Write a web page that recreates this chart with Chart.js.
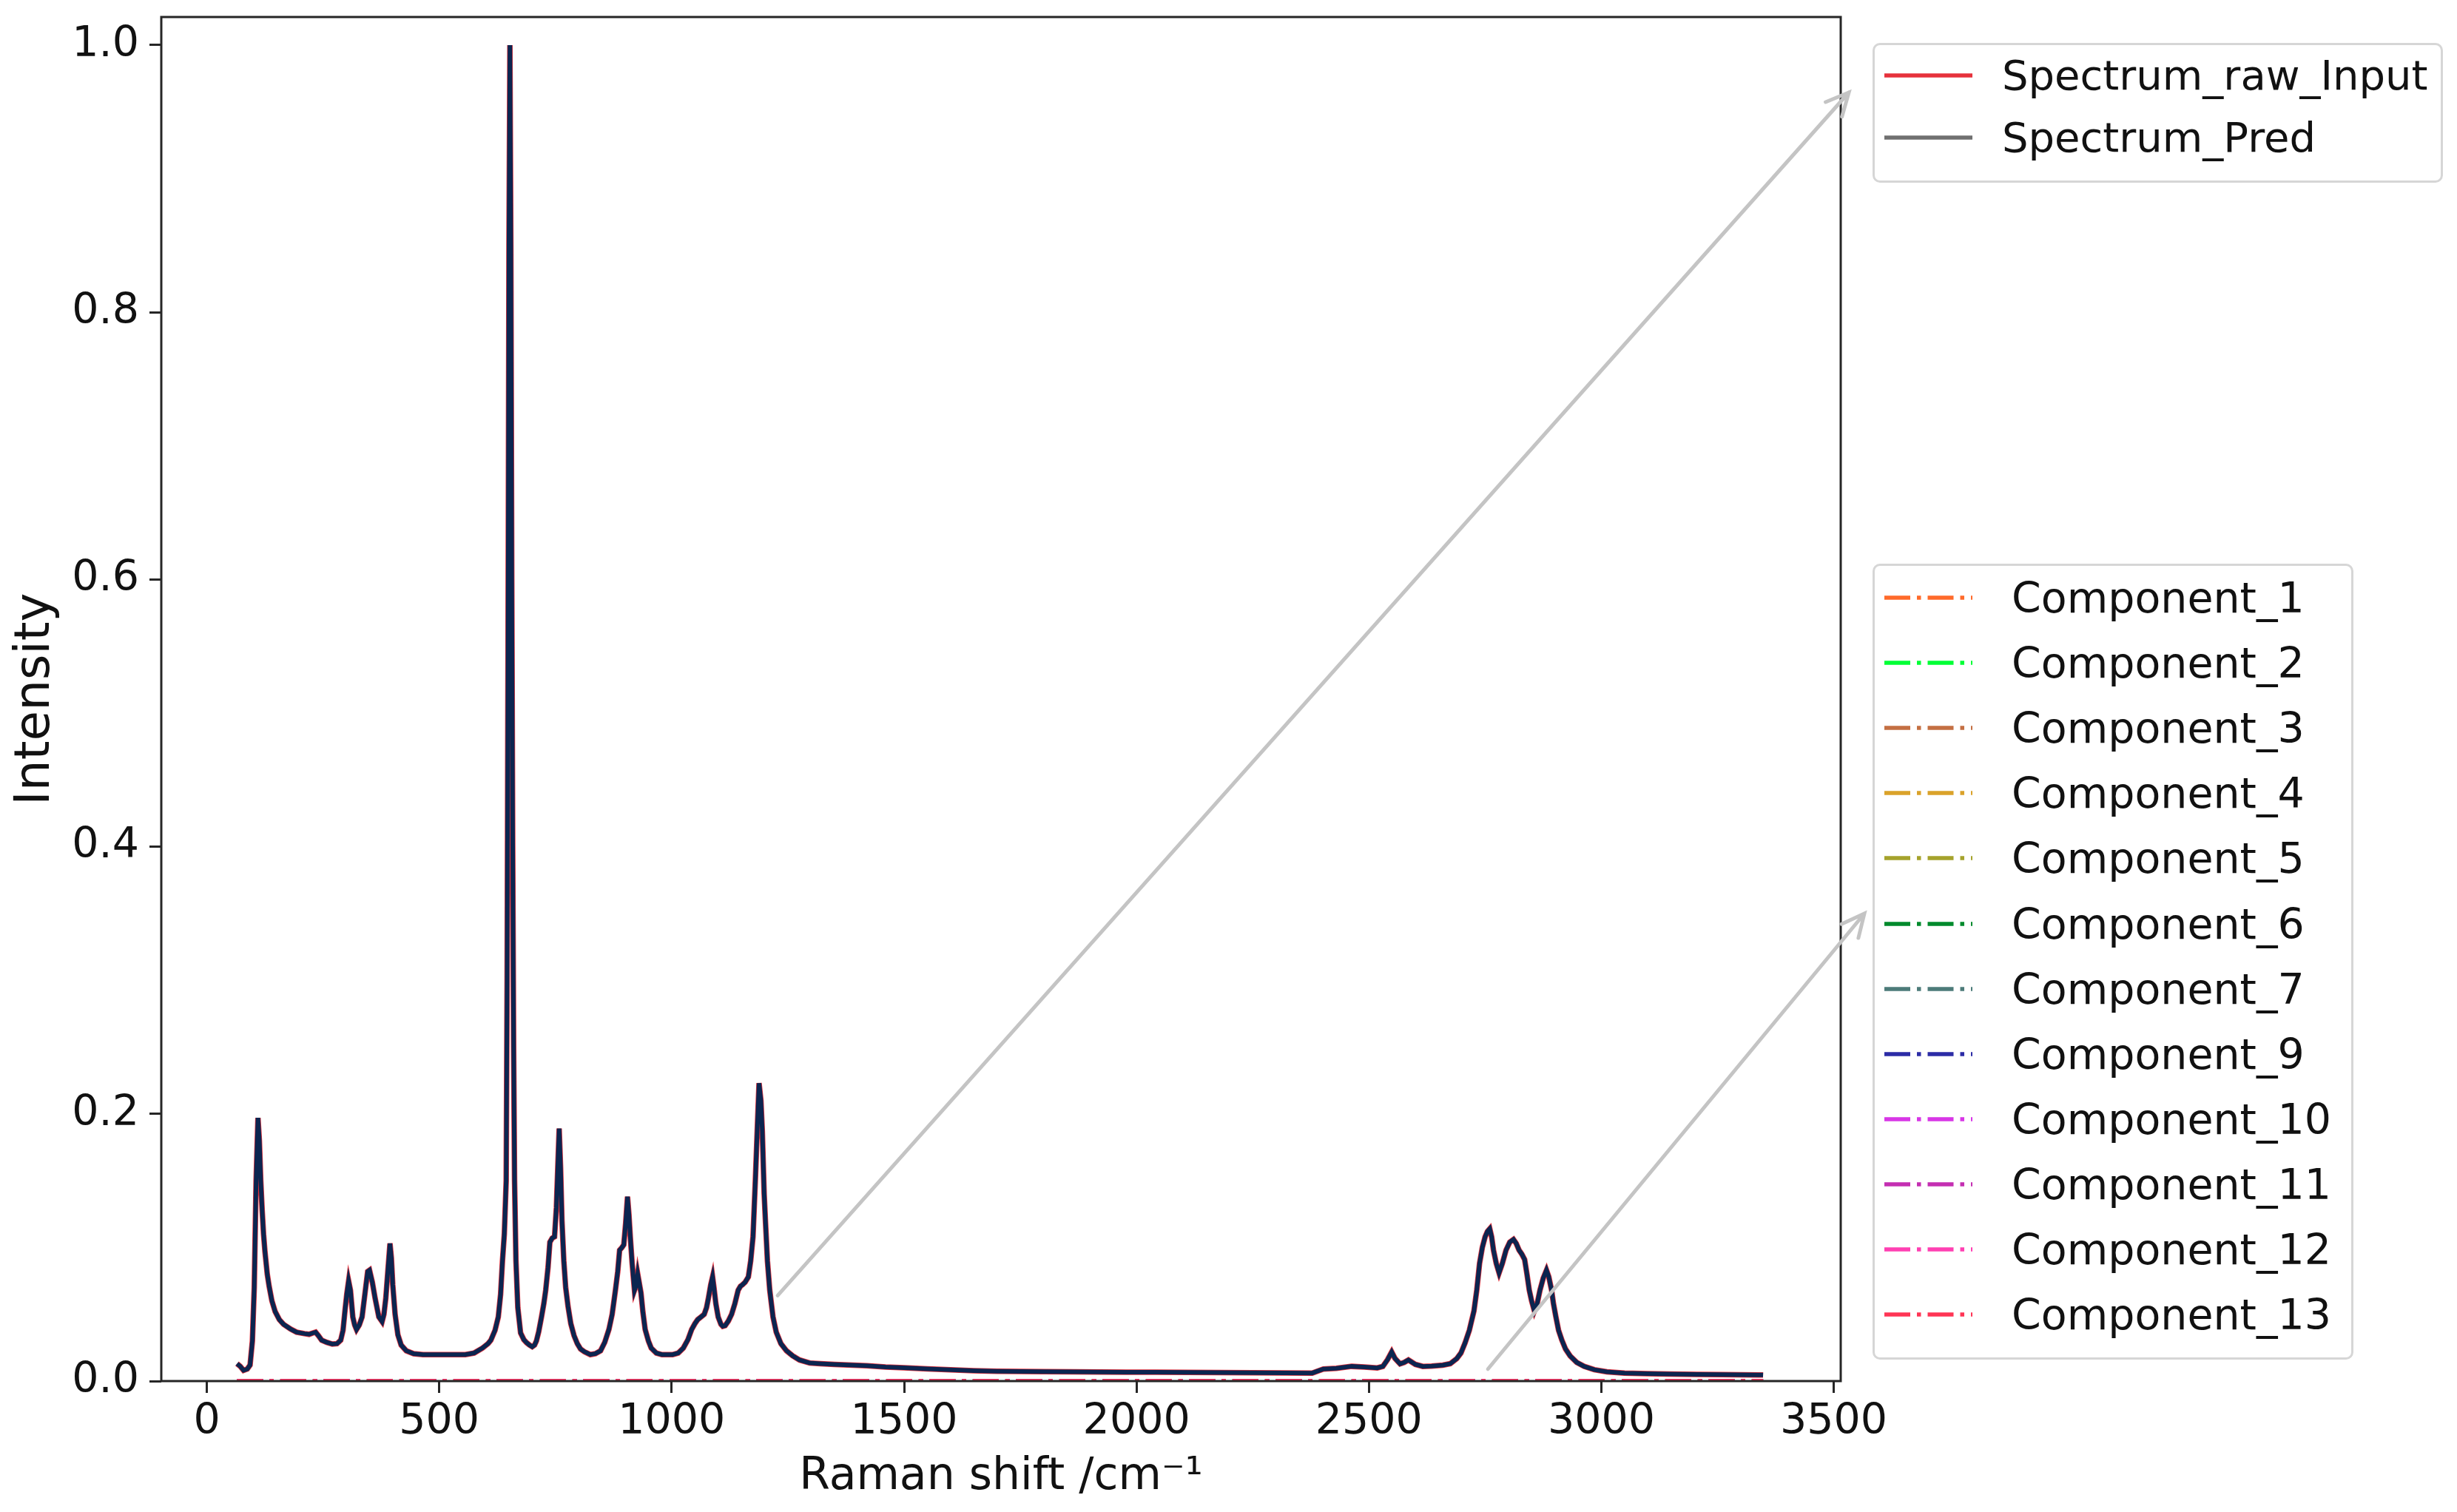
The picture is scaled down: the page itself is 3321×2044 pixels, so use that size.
<!DOCTYPE html>
<html>
<head>
<meta charset="utf-8">
<script src="https://cdn.jsdelivr.net/npm/chart.js@4.4.1/dist/chart.umd.min.js"></script>
<style>
    html, body { margin: 0; padding: 0; background: #fff; }
    #wrap { position: relative; width: 3321px; height: 2044px; overflow: hidden; }
    #chart { position: absolute; left: 0; top: 0; }
    .legend {
        position: absolute; box-sizing: border-box; background: #fff;
        border: 3px solid #d6d6d6; border-radius: 10px;
        font-family: 'DejaVu Sans', sans-serif; color: #111;
    }
    .legend .row { position: absolute; left: 0; height: 80px; display: flex; align-items: center; white-space: nowrap; }
    .legend svg { position: absolute; top: 0; }
    .legend span { position: absolute; line-height: 80px; top: 0; }
</style>
</head>
<body>
<div id="wrap">
    <canvas id="chart" width="3321" height="2044"></canvas>
    <div id="legendSpectra" class="legend"></div>
    <div id="legendComponents" class="legend"></div>
</div>
<script>
// Raman shift (cm-1) and normalised intensity
const shiftX = [
    65, 72, 79, 87, 93, 98, 102, 106, 110, 113, 116, 119, 122, 125, 130, 134, 140, 147, 156, 165,
    180, 193, 210, 220, 228, 234, 240, 247, 258, 270, 280, 288, 293, 297, 301, 305, 309, 314, 318, 322,
    328, 334, 340, 346, 350, 356, 362, 370, 377, 381, 385, 390, 394, 397, 400, 405, 411, 418, 429, 445,
    465, 490, 511, 535, 556, 575, 593, 605, 611, 620, 627, 632, 636, 640, 644, 646, 648, 650, 652, 654,
    656, 658, 660, 662, 665, 669, 675, 682, 688, 694, 700, 705, 709, 714, 720, 725, 729, 734, 738, 743,
    748, 752, 755, 758, 761, 764, 768, 772, 777, 783, 790, 797, 804, 812, 825, 836, 847, 856, 865, 872,
    879, 884, 888, 893, 897, 901, 905, 908, 911, 915, 920, 924, 927, 930, 934, 938, 943, 950, 956, 967,
    979, 990, 1002, 1014, 1025, 1035, 1043, 1050, 1056, 1063, 1070, 1075, 1079, 1084, 1088, 1091, 1095, 1100, 1106, 1110,
    1115, 1122, 1129, 1136, 1143, 1148, 1152, 1158, 1165, 1170, 1175, 1180, 1184, 1188, 1192, 1195, 1199, 1202, 1206, 1211,
    1218, 1225, 1235, 1247, 1260, 1275, 1297, 1320, 1350, 1380, 1420, 1460, 1500, 1550, 1600, 1650, 1700, 1750, 1800, 1866,
    1920, 1980, 2040, 2110, 2180, 2250, 2320, 2378, 2402, 2430, 2463, 2490, 2518, 2530, 2540, 2549, 2556, 2567, 2576, 2585,
    2600, 2616, 2635, 2659, 2675, 2689, 2698, 2707, 2716, 2726, 2732, 2738, 2744, 2750, 2755, 2760, 2764, 2768, 2774, 2780,
    2787, 2795, 2803, 2811, 2817, 2823, 2829, 2835, 2840, 2845, 2850, 2856, 2862, 2868, 2875, 2882, 2887, 2893, 2897, 2902,
    2908, 2915, 2923, 2933, 2947, 2963, 2985, 3012, 3050, 3100, 3146, 3207, 3260, 3300, 3339, 3348
]
const intensity = [
    0.013, 0.011, 0.008, 0.009, 0.012, 0.03, 0.07, 0.15, 0.197, 0.18, 0.15, 0.128, 0.11, 0.097, 0.08, 0.071, 0.06, 0.052, 0.046, 0.0425,
    0.039, 0.0366, 0.0355, 0.035, 0.036, 0.0366, 0.034, 0.0306, 0.029, 0.0277, 0.028, 0.0306, 0.038, 0.052, 0.065, 0.075, 0.068, 0.048, 0.042, 0.0386,
    0.042, 0.048, 0.065, 0.082, 0.083, 0.074, 0.062, 0.048, 0.0445, 0.05, 0.062, 0.085, 0.103, 0.092, 0.072, 0.05, 0.0346, 0.027, 0.0227, 0.0205,
    0.0198, 0.0198, 0.0198, 0.0198, 0.0198, 0.021, 0.0247, 0.028, 0.0306, 0.038, 0.048, 0.065, 0.09, 0.11, 0.15, 0.3, 0.55, 0.85, 1.0, 0.85,
    0.6, 0.4, 0.25, 0.15, 0.09, 0.055, 0.036, 0.031, 0.0287, 0.027, 0.0257, 0.027, 0.03, 0.037, 0.048, 0.058, 0.068, 0.085, 0.104, 0.107,
    0.108, 0.13, 0.16, 0.189, 0.16, 0.12, 0.09, 0.07, 0.056, 0.043, 0.034, 0.028, 0.024, 0.022, 0.0198, 0.0205, 0.0227, 0.029, 0.0386, 0.05,
    0.068, 0.082, 0.098, 0.1, 0.102, 0.118, 0.138, 0.125, 0.108, 0.088, 0.068, 0.072, 0.08, 0.074, 0.066, 0.052, 0.0386, 0.03, 0.0247, 0.021,
    0.0198, 0.0198, 0.0198, 0.021, 0.0247, 0.031, 0.0386, 0.043, 0.046, 0.048, 0.05, 0.055, 0.062, 0.072, 0.078, 0.07, 0.058, 0.048, 0.0425, 0.041,
    0.0415, 0.045, 0.05, 0.058, 0.068, 0.071, 0.072, 0.074, 0.078, 0.09, 0.108, 0.15, 0.187, 0.223, 0.21, 0.187, 0.14, 0.118, 0.09, 0.068,
    0.048, 0.0366, 0.028, 0.0227, 0.019, 0.0158, 0.0135, 0.013, 0.0125, 0.012, 0.0115, 0.0105, 0.01, 0.0092, 0.0085, 0.0078, 0.0074, 0.0072, 0.007, 0.0069,
    0.0068, 0.0066, 0.0066, 0.0065, 0.0063, 0.0062, 0.0061, 0.006, 0.009, 0.0095, 0.011, 0.0105, 0.0099, 0.011, 0.016, 0.0218, 0.017, 0.0129, 0.014, 0.0158,
    0.0125, 0.011, 0.0112, 0.0119, 0.013, 0.0168, 0.021, 0.0287, 0.038, 0.0525, 0.068, 0.088, 0.1, 0.108, 0.112, 0.114, 0.108, 0.098, 0.088, 0.081,
    0.088, 0.098, 0.104, 0.106, 0.103, 0.098, 0.095, 0.091, 0.08, 0.068, 0.06, 0.0525, 0.058, 0.068, 0.077, 0.083, 0.078, 0.068, 0.058, 0.0485,
    0.038, 0.0307, 0.024, 0.0188, 0.014, 0.011, 0.0085, 0.0069, 0.006, 0.0056, 0.0053, 0.005, 0.0048, 0.0047, 0.0046, 0.0045
]

// fitted components all sit on the baseline
const componentLabels = [
    'Component_1', 'Component_2', 'Component_3', 'Component_4', 'Component_5', 'Component_6',
    'Component_7', 'Component_9', 'Component_10', 'Component_11', 'Component_12', 'Component_13'
]
const componentColors = [
    '#ff6a2a', '#00ff35', '#c46f42', '#daa22a', '#a5a22c', '#008a2c',
    '#4c7b79', '#2c2ca6', '#d836e6', '#c42fb2', '#ff40b2', '#ff3555'
]
const componentShift = [65, 3348]
const componentLevel = [0, 0]

const xTicks = [0, 500, 1000, 1500, 2000, 2500, 3000, 3500]
const yTicks = [0, 0.2, 0.4, 0.6, 0.8, 1.0]

// annotation arrows: data point -> offset from a legend box corner
const arrows = [
    { from: [1228, 0.064], legend: 0, dx: -32, dy: 67 },
    { from: [2756, 0.009], legend: 1, dx: -11, dy: 473 }
]

const legendBoxes = [
    { left: 2531, top: 58, width: 771, height: 189, firstRow: 41, rowGap: 84, textLeft: 172, fontSize: 56 },
    { left: 2531, top: 762, width: 650, height: 1076, firstRow: 43, rowGap: 88.1, textLeft: 185, fontSize: 57 }
]

const FONT = "'DejaVu Sans', sans-serif"
const INK = '#111'
const DASHDOT = [35, 9, 5.5, 9]

Chart.defaults.font.family = FONT

function toPoints(xs, ys) {
    return xs.map((x, i) => ({ x: x, y: ys[i] }))
}

function buildDatasets() {
    const sets = [
        { label: 'Spectrum_raw_Input', data: toPoints(shiftX, intensity), borderColor: '#e6323c', borderWidth: 7.5, order: 30, legendColor: '#e6323c' },
        { label: 'Spectrum_Pred', data: toPoints(shiftX, intensity), borderColor: '#0c2550', borderWidth: 6, order: 29, legendColor: '#707070' }
    ]
    componentLabels.forEach((label, i) => {
        sets.push({
            label: label,
            data: toPoints(componentShift, componentLevel),
            borderColor: componentColors[i],
            borderWidth: 5.5,
            borderDash: DASHDOT,
            order: componentLabels.length - i,
            legendColor: componentColors[i],
            legendDash: DASHDOT
        })
    })
    sets.forEach(s => { s.clip = 0; s.pointRadius = 0; s.fill = false; s.tension = 0 })
    return sets
}

function buildLegend(el, box, items) {
    el.style.left = box.left + 'px'
    el.style.top = box.top + 'px'
    el.style.width = box.width + 'px'
    el.style.height = box.height + 'px'
    el.style.fontSize = box.fontSize + 'px'
    items.forEach((it, i) => {
        const row = document.createElement('div')
        row.className = 'row'
        row.style.top = (box.firstRow + i * box.rowGap - 40) + 'px'
        const dash = it.legendDash ? `stroke-dasharray="${it.legendDash.join(' ')}"` : ''
        row.innerHTML = `<svg width="140" height="80" style="left:13px"><line x1="0" y1="40" x2="119" y2="40" stroke="${it.legendColor}" stroke-width="5.5" ${dash}/></svg>` +
            `<span style="left:${box.textLeft}px">${it.label}</span>`
        el.appendChild(row)
    })
}

const framePlugin = {
    id: 'frame',
    afterDatasetsDraw(chart) {
        const { ctx, chartArea: a } = chart
        ctx.save()
        ctx.strokeStyle = '#262626'
        ctx.lineWidth = 3
        ctx.strokeRect(a.left, a.top, a.right - a.left, a.bottom - a.top)
        ctx.restore()
    }
}

const arrowPlugin = {
    id: 'arrows',
    afterDraw(chart) {
        const { ctx, scales } = chart
        ctx.save()
        ctx.strokeStyle = '#c4c4c4'
        ctx.lineWidth = 5
        ctx.lineCap = 'round'
        arrows.forEach(a => {
            const box = legendBoxes[a.legend]
            const x0 = scales.x.getPixelForValue(a.from[0])
            const y0 = scales.y.getPixelForValue(a.from[1])
            const x1 = box.left + a.dx
            const y1 = box.top + a.dy
            const ang = Math.atan2(y1 - y0, x1 - x0)
            ctx.beginPath()
            ctx.moveTo(x0, y0)
            ctx.lineTo(x1, y1)
            const head = 34, spread = 0.45
            ctx.moveTo(x1 - head * Math.cos(ang - spread), y1 - head * Math.sin(ang - spread))
            ctx.lineTo(x1, y1)
            ctx.lineTo(x1 - head * Math.cos(ang + spread), y1 - head * Math.sin(ang + spread))
            ctx.stroke()
        })
        ctx.restore()
    }
}

const tickFont = { family: FONT, size: 57 }
const gridOpts = { drawOnChartArea: false, drawTicks: true, tickLength: 16, tickWidth: 3, tickColor: '#262626' }

const datasets = buildDatasets()

buildLegend(document.getElementById('legendSpectra'), legendBoxes[0], datasets.slice(0, 2))
buildLegend(document.getElementById('legendComponents'), legendBoxes[1], datasets.slice(2))

new Chart(document.getElementById('chart'), {
    type: 'line',
    data: { datasets: datasets },
    options: {
        responsive: false,
        animation: false,
        devicePixelRatio: 1,
        layout: { padding: { left: 0, top: 23, right: 833, bottom: 0 } },
        plugins: { legend: { display: false }, tooltip: { enabled: false } },
        scales: {
            x: {
                type: 'linear',
                min: -98,
                max: 3515,
                border: { display: false },
                grid: gridOpts,
                afterBuildTicks: s => { s.ticks = xTicks.map(v => ({ value: v })) },
                afterFit: s => { s.height = 177; s.paddingLeft = 0; s.paddingRight = 0 },
                ticks: { font: tickFont, color: INK, padding: 6, maxRotation: 0, callback: v => String(v) },
                title: { display: true, text: 'Raman shift /cm⁻¹', font: { family: FONT, size: 60 }, color: INK, padding: { top: 0, bottom: 11 } }
            },
            y: {
                type: 'linear',
                min: 0,
                max: 1.021,
                border: { display: false },
                grid: gridOpts,
                afterBuildTicks: s => { s.ticks = yTicks.map(v => ({ value: v })) },
                afterFit: s => { s.width = 218; s.paddingTop = 0; s.paddingBottom = 0 },
                ticks: { font: tickFont, color: INK, padding: 14, callback: v => v.toFixed(1) },
                title: { display: true, text: 'Intensity', font: { family: FONT, size: 66 }, color: INK, padding: { top: 9, bottom: 0 } }
            }
        }
    },
    plugins: [framePlugin, arrowPlugin]
})
</script>
</body>
</html>
